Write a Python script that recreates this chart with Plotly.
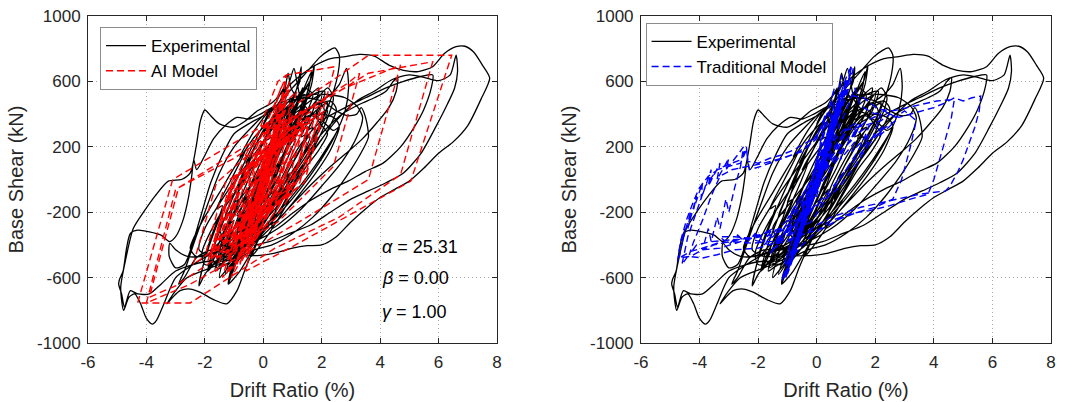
import plotly.graph_objects as go

# ---------------------------------------------------------------------------
# Hysteresis data: (drift ratio %, base shear kN) pairs, in time order
# ---------------------------------------------------------------------------
exp_early = [
    (0.00, 0), (0.20, 70), (0.45, 180), (0.55, 230), (0.40, 150), (0.05, 10), (-0.30, -120), (-0.50, -210),
    (-0.40, -170), (-0.05, -20), (0.35, 140), (0.70, 290), (0.80, 330), (0.60, 230), (0.15, 40), (-0.35, -160),
    (-0.75, -330), (-0.85, -380), (-0.60, -260), (-0.10, -50), (0.40, 170), (0.90, 390), (1.05, 450), (0.85, 350),
    (0.30, 100), (-0.30, -150), (-0.90, -420), (-1.05, -500), (-0.80, -380), (-0.20, -110), (0.50, 200), (1.10, 450),
    (1.35, 560), (1.20, 480), (0.60, 200), (-0.10, -120), (-0.80, -420), (-1.15, -580), (-1.20, -640), (-0.95, -520),
    (-0.40, -260), (0.30, 80), (0.90, 330), (1.40, 560), (1.65, 660), (1.55, 560), (1.10, 330), (0.40, 40),
    (-0.30, -250), (-0.90, -470), (-1.30, -560), (-1.50, -600), (-1.30, -450), (-0.80, -200), (-0.20, 60), (0.40, 280),
    (0.95, 480), (1.25, 600), (1.30, 690), (1.15, 560), (0.80, 380), (0.20, 120), (-0.50, -180), (-1.10, -400),
    (-1.70, -520), (-1.90, -560), (-1.70, -420), (-1.20, -180), (-0.60, 80), (0.00, 300), (0.50, 420), (0.75, 560),
    (0.85, 650), (0.95, 560), (1.20, 500), (1.60, 600), (1.75, 700), (1.65, 580), (1.30, 400), (0.70, 150),
    (0.00, -120), (-0.60, -330), (-1.20, -470), (-1.60, -500), (-2.00, -580), (-2.20, -650), (-2.05, -520), (-1.70, -330),
    (-1.20, -110), (-0.60, 120), (-0.10, 300), (0.30, 420), (0.60, 470),
]
exp_tangle = [
    (0.40, 150), (0.60, 300), (0.50, 200), (0.80, 330), (1.10, 420), (0.90, 300), (1.20, 380), (1.50, 500),
    (1.30, 380), (0.90, 220), (1.10, 250), (0.70, 80), (0.20, -100), (0.40, -60), (0.00, -200), (-0.40, -330),
    (-0.20, -250), (-0.60, -380), (-0.90, -480), (-0.70, -400), (-1.00, -500), (-1.30, -580), (-1.10, -470), (-0.70, -300),
    (-0.90, -330), (-0.40, -120), (0.00, 60), (-0.20, 0), (0.30, 200), (0.70, 360), (0.50, 260), (0.90, 420),
    (1.30, 540), (1.10, 420), (1.50, 500), (1.90, 560), (1.70, 420), (1.30, 260), (1.50, 280), (1.00, 100),
    (0.50, -80), (0.70, -40), (0.20, -220), (-0.30, -360), (-0.10, -300), (-0.60, -440), (-1.00, -520), (-0.80, -420),
    (-1.20, -480), (-1.60, -540), (-1.40, -420), (-1.00, -250), (-1.20, -280), (-0.70, -80), (-0.30, 100), (-0.50, 60),
    (0.00, 220), (0.40, 360), (0.20, 280), (0.60, 420), (1.00, 500), (0.80, 380), (1.20, 420), (1.60, 480),
    (2.00, 520), (1.80, 400), (1.40, 250), (1.60, 260), (1.10, 60), (0.60, -120), (0.80, -80), (0.20, -260),
    (-0.30, -380), (-0.50, -420), (-0.20, -250), (0.30, -40), (0.10, -80), (0.60, 120), (1.00, 260), (0.80, 180),
    (1.30, 320), (1.80, 420), (2.20, 470), (2.00, 360), (1.60, 220), (1.80, 240), (1.20, 20), (0.60, -180),
    (0.90, -120), (0.20, -330), (-0.40, -470), (-0.20, -380), (-0.80, -560), (-1.20, -640), (-1.00, -520), (-0.60, -320),
    (-0.80, -340), (-0.30, -100), (0.10, 80), (-0.10, 40), (0.40, 240), (0.80, 380), (0.60, 300), (1.00, 430),
    (1.40, 520), (1.20, 400), (0.80, 240), (1.00, 260), (0.50, 60), (0.00, -140), (0.20, -100), (-0.40, -300),
    (-0.90, -430), (-0.70, -360), (-1.20, -450), (-1.70, -500), (-1.50, -380), (-1.10, -200), (-1.30, -220), (-0.80, -20),
    (-0.40, 140), (-0.60, 100), (-0.10, 260), (0.30, 380), (0.10, 300), (0.50, 440), (0.80, 520), (0.60, 400),
    (0.30, 220), (0.50, 240), (0.00, 40), (-0.50, -160), (-0.30, -120), (-0.90, -320), (-1.40, -440), (-1.20, -340),
    (-1.70, -420), (-2.00, -480), (-1.80, -360), (-1.40, -160), (-1.60, -180), (-1.10, 0), (-0.60, 180), (-0.80, 140),
    (-0.30, 300), (0.20, 420), (0.00, 340), (0.40, 460), (0.70, 560), (0.50, 420), (0.10, 240), (0.30, 260),
    (-0.20, 60), (-0.70, -140), (-0.50, -100), (-1.00, -300), (-1.50, -420), (-1.30, -330), (-0.80, -120), (-1.00, -140),
    (-0.40, 80), (0.10, 260), (-0.10, 200), (0.40, 360), (0.90, 460), (0.70, 360), (1.20, 440), (1.70, 520),
    (2.10, 540), (1.90, 420), (1.50, 300), (1.70, 320), (1.20, 160), (0.70, 0), (0.90, 40), (0.30, -160),
    (-0.20, -300), (0.00, -240), (-0.50, -380), (-0.90, -450),
]
exp_wide = [
    (-1.50, -300), (-0.80, -120), (0.00, 60), (0.80, 260), (1.50, 420), (1.90, 470), (2.10, 420), (1.70, 250),
    (1.10, 80), (0.40, -120), (-0.40, -300), (-1.10, -440), (-1.70, -520), (-2.00, -520), (-2.10, -450), (-1.60, -250),
    (-0.90, -60), (-0.20, 120), (0.50, 280), (1.20, 400), (1.60, 440), (2.30, 480), (2.50, 430), (2.20, 300),
    (1.50, 120), (0.80, -60), (0.10, -220), (-0.60, -360), (-1.30, -460), (-1.80, -470), (-2.20, -430), (-2.00, -300),
    (-1.40, -120), (-0.70, 60), (0.00, 230), (0.60, 380), (1.10, 480), (1.40, 560), (1.70, 520), (1.40, 380),
    (0.90, 220), (0.30, 40), (-0.40, -140), (-1.00, -300), (-1.50, -420), (-1.90, -560), (-1.60, -420), (-1.00, -220),
    (-0.30, 0), (0.40, 200), (1.00, 330), (1.70, 400), (2.40, 380), (2.60, 330), (2.20, 200), (1.60, 40),
    (0.90, -120), (0.20, -260), (-0.50, -380), (-1.20, -480), (-1.50, -500), (-1.00, -300), (-0.30, -80), (0.40, 150),
    (1.10, 300), (1.80, 380), (2.20, 420), (1.80, 260), (1.20, 100), (0.50, -80), (-0.20, -240), (-0.90, -380),
    (-1.60, -440), (-2.30, -470), (-2.50, -420), (-2.10, -260), (-1.50, -80), (-0.90, 100), (-0.30, 260), (0.30, 370),
    (0.90, 450), (1.30, 520), (1.60, 600), (1.40, 470), (0.90, 300), (0.30, 120), (-0.30, -60), (-0.90, -220),
    (-0.40, -200), (0.10, 20), (0.60, 470),
]
exp_mid = [
    (1.00, 560), (1.50, 660), (1.95, 750), (2.25, 790), (2.45, 805), (2.60, 760), (2.55, 640), (2.25, 460),
    (1.80, 280), (1.20, 90), (0.50, -120), (-0.20, -280), (-0.90, -400), (-1.50, -440), (-2.10, -470), (-2.60, -470),
    (-3.00, -430), (-3.20, -390), (-3.22, -470), (-3.00, -540), (-2.70, -520), (-2.40, -380), (-2.10, -200), (-1.80, -20),
    (-1.40, 150), (-1.00, 280), (-0.50, 340), (0.00, 390), (0.40, 440), (0.70, 520), (0.90, 600), (1.05, 680),
    (1.15, 600), (1.30, 480), (1.55, 430), (1.90, 470), (2.30, 520), (2.60, 580), (2.85, 680), (2.92, 560),
    (2.80, 420), (2.40, 250), (1.90, 100), (1.30, -50), (0.60, -200), (-0.10, -330), (-0.70, -420), (-1.30, -430),
    (-1.80, -430), (-2.30, -480), (-2.70, -600), (-2.90, -640), (-2.70, -560), (-2.30, -350), (-1.90, -150), (-1.50, 40),
    (-1.00, 200), (-0.40, 320), (0.20, 420), (0.80, 470), (1.40, 500), (2.00, 480), (2.50, 420), (2.90, 390),
    (3.20, 400), (3.35, 440), (3.50, 380), (3.60, 260),
]
exp_dense = [
    (3.40, 180), (3.00, 60), (2.40, -90), (1.70, -230), (1.00, -330), (0.30, -400), (-0.30, -430), (-0.80, -480),
    (-1.10, -560), (-1.00, -500), (-0.60, -300), (-0.10, -80), (0.40, 150), (0.90, 330), (1.30, 420), (1.70, 400),
    (2.00, 330), (2.20, 280), (1.90, 180), (1.40, 60), (0.80, -120), (0.20, -280), (-0.40, -400), (-0.90, -480),
    (-1.40, -530), (-1.65, -560), (-1.40, -380), (-1.00, -150), (-0.60, 60), (-0.20, 230), (0.20, 330), (0.50, 380),
    (0.70, 460), (0.55, 300), (0.30, 150), (0.70, 230), (1.20, 330), (1.60, 390), (2.00, 360), (2.40, 300),
    (2.60, 320), (2.30, 180), (1.80, 40), (1.20, -100), (0.60, -230), (0.00, -340), (-0.50, -420), (-1.00, -470),
    (-1.20, -520),
]
exp_large = [
    (-1.80, -500), (-2.40, -520), (-3.00, -560), (-3.50, -640), (-3.90, -700), (-4.30, -700), (-4.55, -680), (-4.75, -780),
    (-4.85, -700), (-4.95, -640), (-4.92, -610), (-4.80, -560), (-4.68, -420), (-4.55, -330), (-4.30, -310), (-3.90, -320),
    (-3.50, -340), (-3.20, -380), (-3.00, -350), (-2.75, -250), (-2.55, -100), (-2.45, 20), (-2.38, 120), (-2.28, 60),
    (-2.05, 130), (-1.70, 250), (-1.30, 330), (-0.90, 380), (-0.50, 370), (-0.10, 400), (0.40, 450), (1.00, 500),
    (1.60, 520), (2.20, 520), (2.80, 500), (3.20, 450), (3.40, 380), (3.20, 260), (2.70, 110), (2.00, -40),
    (1.30, -180), (0.50, -300), (-0.30, -380), (-1.00, -420), (-1.70, -450), (-2.40, -520), (-3.00, -600), (-3.40, -760),
    (-3.65, -860), (-3.80, -885), (-4.00, -850), (-4.20, -760), (-4.40, -700), (-4.60, -720), (-4.78, -800), (-4.88, -660),
    (-4.70, -480), (-4.45, -300), (-4.10, -200), (-3.70, -100), (-3.25, -10), (-2.80, 0), (-2.50, 40), (-2.30, 200),
    (-2.15, 360), (-2.00, 425), (-1.80, 390), (-1.50, 340), (-1.00, 320), (-0.60, 360), (-0.20, 420), (0.30, 470),
    (0.80, 560), (1.30, 640), (1.80, 700), (2.30, 740), (2.80, 752), (3.30, 765), (3.80, 755), (4.30, 700),
    (4.80, 668), (5.30, 660), (5.80, 690), (6.20, 770), (6.60, 812), (6.90, 815), (7.20, 780), (7.50, 700),
    (7.75, 620), (7.45, 490), (7.00, 330), (6.50, 230), (6.00, 160), (5.50, 70), (5.00, -10), (4.50, -60),
    (4.00, -110), (3.50, -180), (3.00, -260), (2.50, -350), (2.00, -400), (1.50, -405), (1.00, -420), (0.40, -450),
    (-0.20, -465), (-0.90, -470), (-1.50, -520), (-2.10, -560), (-2.60, -600), (-3.00, -680), (-3.30, -760), (-3.10, -720),
    (-2.85, -680), (-2.50, -670), (-2.15, -690), (-1.70, -735), (-1.25, -760), (-0.90, -680), (-0.60, -540), (-0.20, -380),
    (0.40, -200), (1.00, 0), (1.80, 200), (2.50, 360), (3.20, 480), (3.80, 540), (4.40, 610), (5.00, 640),
    (5.50, 625), (6.00, 605), (6.40, 640), (6.60, 760), (6.65, 660), (6.55, 560), (6.30, 460), (5.90, 320),
    (5.40, 160), (4.80, 40), (4.20, -20), (3.60, -70), (3.00, -120), (2.30, -200), (1.60, -280), (0.90, -330),
    (0.20, -380), (-0.40, -400), (0.00, -250), (0.60, 0), (1.30, 220), (2.00, 360), (2.80, 440), (3.50, 500),
    (4.20, 560), (4.80, 600), (5.40, 630), (5.80, 640), (5.75, 560), (5.50, 430), (5.20, 330), (4.70, 200),
    (4.10, 100), (3.50, 50), (2.90, -10), (2.30, -60), (1.60, -130), (0.90, -220), (0.30, -300), (0.60, -100),
    (1.30, 100), (2.00, 280), (2.70, 400), (3.30, 460), (3.80, 500), (4.20, 540), (4.45, 600), (4.60, 625),
    (4.55, 540), (4.30, 440), (3.90, 350), (3.40, 250), (2.90, 170), (2.30, 80), (1.70, -20), (1.00, -150),
    (0.40, -260), (-0.20, -300),
]
exp_late = [
    (0.30, -50), (0.80, 180), (1.30, 350), (1.80, 480), (2.20, 560), (2.40, 500), (2.10, 330), (1.60, 150),
    (1.00, -30), (0.40, -180), (-0.20, -300), (-0.70, -380), (-0.90, -330), (-0.50, -120), (0.00, 80), (0.50, 260),
    (0.90, 380), (1.10, 420), (0.80, 260), (0.30, 60), (-0.20, -120), (-0.50, -200), (-0.20, -50), (0.20, 100),
    (0.40, 150),
]

ai_early = [
    (0.00, 0), (0.35, 220), (0.60, 360), (0.45, 240), (-0.10, -120), (-0.45, -320), (-0.30, -200), (0.25, 180),
    (0.75, 420), (0.95, 470), (0.70, 300), (0.05, -160), (-0.60, -420), (-0.85, -490), (-0.60, -320), (0.10, 130),
    (0.80, 480), (1.15, 540), (0.85, 360), (0.00, -180), (-0.90, -500), (-1.25, -580), (-1.00, -420), (-0.30, 40),
    (0.50, 450), (0.90, 560), (0.70, 420), (-0.10, -120), (-0.80, -470), (-1.40, -600), (-1.10, -420), (-0.40, 20),
    (0.30, 380), (0.60, 560), (0.40, 440), (-0.30, -30), (-1.00, -440), (-1.60, -560), (-1.30, -380), (-0.50, 120),
    (0.10, 420), (0.50, 600), (0.80, 640),
]
ai_jitter = [
    (0.00, 0), (0.20, 120), (0.05, 40), (0.30, 180), (0.10, 60), (-0.20, -80), (0.00, -20), (-0.40, -160),
    (-0.20, -100), (-0.60, -260), (-0.40, -180), (-0.90, -320), (-0.70, -260), (-1.10, -380), (-0.80, -300), (-0.40, -120),
    (-0.60, -160), (-0.10, 40), (-0.30, 0), (0.20, 140), (0.00, 80), (0.50, 220), (0.30, 150), (0.80, 260),
    (0.60, 200), (1.10, 300), (0.90, 220), (1.40, 320), (1.20, 240), (0.80, 80), (1.00, 120), (0.50, -40),
    (0.70, 0), (0.20, -150), (0.40, -100), (-0.10, -240), (0.10, -180), (-0.40, -330), (-0.20, -260), (-0.70, -400),
    (-0.50, -330), (-1.00, -460), (-0.80, -380), (-0.30, -200), (-0.50, -230), (0.00, -60), (-0.20, -100), (0.30, 80),
    (0.10, 30), (0.60, 200), (0.40, 140), (0.90, 280), (0.70, 200), (1.20, 330), (1.50, 380), (1.30, 280),
    (0.90, 120), (1.10, 160), (0.60, -20), (0.80, 20), (0.30, -130), (0.50, -80), (0.00, -220), (0.20, -160),
    (-0.30, -300), (-0.10, -230), (-0.60, -360), (-0.40, -300), (-0.90, -420), (-1.20, -480), (-1.00, -380), (-0.60, -200),
    (-0.80, -230), (-0.30, -40), (-0.50, -80), (0.00, 100), (-0.20, 40), (0.30, 200), (0.10, 130), (0.50, 300),
    (0.70, 360), (0.50, 240), (0.20, 100),
]
ai_jitter2 = [
    (-1.20, -500), (-0.90, -300), (-1.10, -360), (-0.70, -150), (-0.90, -200), (-0.40, 20), (-0.60, -20), (-0.10, 200),
    (-0.30, 140), (0.20, 330), (0.00, 260), (0.40, 420), (0.60, 480), (0.40, 360), (0.00, 160), (0.20, 200),
    (-0.30, -20), (-0.10, 20), (-0.60, -200), (-0.40, -150), (-0.90, -380), (-1.30, -470), (-1.10, -360), (-1.50, -420),
    (-1.80, -460), (-1.50, -300), (-1.10, -120), (-1.30, -150), (-0.80, 40), (-1.00, 0), (-0.50, 160), (-0.70, 120),
    (-0.20, 280), (0.20, 360), (0.00, 280), (0.40, 330), (0.80, 380), (0.60, 300), (1.00, 360), (1.40, 420),
    (1.10, 300), (0.70, 130), (0.90, 170), (0.40, -40), (0.60, 0), (0.10, -200), (0.30, -150), (-0.20, -320),
    (0.00, -260), (-0.50, -420), (-0.80, -520), (-0.60, -400), (-0.20, -180), (-0.40, -220), (0.10, 20), (-0.10, -20),
    (0.40, 180), (0.20, 120), (0.70, 280), (1.00, 360), (1.30, 420), (1.00, 260), (0.60, 80), (0.80, 120),
    (0.30, -100), (0.50, -60), (0.00, -250), (0.20, -200), (-0.30, -380), (-0.10, -320), (-0.60, -480), (-0.40, -380),
    (0.00, -160), (-0.20, -200), (0.30, 40),
]
ai_tangle = [
    (0.30, 100), (0.70, 350), (0.50, 200), (-0.20, -250), (-0.60, -450), (-0.40, -300), (0.20, 100), (0.60, 400),
    (0.40, 250), (-0.10, -100), (-0.40, -300), (-1.00, -400), (-1.60, -480), (-1.20, -200), (-0.60, 0), (0.00, 150),
    (0.80, 250), (1.50, 320), (1.20, 100), (0.60, -150), (0.00, -300), (-0.60, -380), (-0.20, -100), (0.40, 300),
    (0.80, 520), (0.50, 300), (-0.10, -50), (-0.60, -330), (-1.30, -420), (-1.90, -500), (-1.40, -200), (-0.90, 20),
    (0.00, 180), (0.90, 300), (1.80, 400), (1.30, 120), (0.70, -120), (0.00, -300), (-0.50, -420), (-0.10, -150),
    (0.50, 220), (1.00, 400), (0.70, 200), (0.20, -100), (-0.30, -300), (-0.80, -380), (-0.40, -120), (0.20, 200),
    (0.60, 450), (0.90, 600), (0.60, 380), (0.10, 40), (-0.50, -300), (-0.90, -520), (-0.60, -350), (0.00, 40),
    (0.40, 300), (0.20, 150), (-0.30, -150), (-0.70, -250), (-1.30, -330), (-0.80, -50), (-0.20, 150), (0.50, 260),
    (1.20, 330), (1.90, 380), (1.50, 150), (1.00, -80), (0.40, -240), (-0.30, -340), (0.10, -100), (0.60, 200),
    (0.30, 50), (-0.20, -200), (-1.00, -300), (-1.70, -380), (-1.30, -150), (-0.50, 60), (0.30, 200), (1.10, 280),
    (0.70, 60), (0.20, -120), (-0.40, -380), (-1.10, -600), (-0.70, -380), (0.10, 120), (0.60, 430), (0.80, 640),
]
ai_wide = [
    (-1.80, -480), (-1.05, 0), (1.20, 300), (0.60, -90), (-1.50, -370), (-0.90, 20), (1.60, 350), (1.00, -40),
    (-1.20, -330), (-0.60, 60), (1.90, 400), (1.20, -50), (-0.80, -310), (-2.00, -470), (-1.30, -20), (0.50, 220),
    (1.40, 340), (0.80, -50), (-0.90, -280), (-1.60, -370), (-1.00, 20), (0.80, 260), (2.10, 420), (1.40, -20),
    (0.20, -170), (-1.40, -380), (-0.80, 0), (0.60, 200), (1.50, 300), (0.90, -100), (-0.50, -280), (-1.20, -360),
    (-0.50, 60), (0.30, 170), (0.80, 640),
]
ai_cycles = [
    (2.45, 690), (1.50, 60), (0.00, -250), (-1.70, -430), (-2.40, -520), (-1.60, -20), (0.00, 230), (1.50, 430),
    (2.90, 590), (3.30, 650), (2.40, 80), (0.50, -260), (-1.50, -470), (-3.00, -650), (-3.90, -720), (-2.90, -50),
    (-1.00, 160), (1.00, 380), (2.80, 560), (4.70, 700), (3.60, 0), (1.50, -230), (-0.50, -440), (-2.50, -640),
    (-4.00, -755), (-3.00, -60), (-1.00, 130), (1.50, 420), (3.60, 650), (5.80, 720), (4.70, 30), (2.60, -230),
    (0.40, -420), (-2.50, -755), (-4.30, -755), (-3.10, 0), (0.00, 330), (2.40, 610), (3.60, 760), (6.45, 760),
    (5.05, -10), (3.00, -210), (1.00, -410), (-0.60, -560), (-0.10, -150), (0.60, 250), (1.40, 390), (2.00, 460),
    (1.40, 40), (0.20, -200), (-1.00, -380), (-1.80, -480), (-1.20, -60), (-0.20, 150), (0.80, 300), (1.60, 380),
    (1.20, 100), (0.20, -200), (-0.80, -350), (-0.30, -50), (0.40, 200), (1.00, 320), (0.60, 60), (-0.20, -180),
    (0.30, 100),
]

trad_center = [
    (0.00, 0), (0.25, 150), (0.45, 260), (0.30, 170), (-0.10, -80), (-0.35, -220), (-0.20, -130), (0.20, 120),
    (0.55, 330), (0.65, 380), (0.45, 260), (0.00, -30), (-0.45, -280), (-0.60, -360), (-0.40, -230), (0.10, 70),
    (0.60, 380), (0.80, 460), (0.60, 330), (0.05, 20), (-0.55, -330), (-0.85, -480), (-0.70, -380), (-0.10, -40),
    (0.50, 340), (0.95, 560), (1.05, 600), (0.80, 450), (0.20, 100), (-0.50, -320), (-1.00, -560), (-1.20, -620),
    (-0.95, -480), (-0.30, -150), (0.40, 260), (0.90, 540), (1.25, 680), (1.10, 560), (0.60, 300), (0.00, -40),
    (-0.70, -400), (-1.05, -600), (-0.85, -460), (-0.20, -100), (0.30, 200), (0.70, 470), (0.85, 640), (0.75, 500),
    (0.40, 260),
]
trad_jitter = [
    (0.00, 0), (0.15, 100), (0.05, 40), (0.25, 160), (0.10, 80), (-0.10, -60), (0.00, -10), (-0.25, -150),
    (-0.10, -80), (-0.40, -240), (-0.25, -160), (-0.60, -330), (-0.45, -260), (-0.75, -420), (-0.55, -320), (-0.20, -120),
    (-0.35, -160), (0.05, 40), (-0.10, -20), (0.30, 180), (0.15, 110), (0.50, 300), (0.35, 220), (0.70, 400),
    (0.55, 320), (0.90, 480), (0.75, 400), (0.45, 220), (0.60, 260), (0.20, 60), (0.35, 100), (-0.05, -80),
    (0.10, -30), (-0.30, -200), (-0.15, -140), (-0.50, -300), (-0.35, -240), (-0.70, -400), (-0.90, -500), (-0.70, -380),
    (-0.40, -200), (-0.55, -240), (-0.15, -40), (-0.30, -80), (0.10, 120), (-0.05, 60), (0.35, 240), (0.20, 170),
    (0.60, 360), (0.80, 460), (0.60, 320), (0.30, 160), (0.00, 0),
]
trad_tangle = [
    (0.00, 0), (0.30, 200), (0.15, 100), (0.50, 350), (0.35, 200), (-0.10, -50), (-0.40, -250), (-0.25, -150),
    (-0.60, -350), (-0.45, -250), (0.00, 0), (0.40, 250), (0.70, 420), (0.55, 300), (0.90, 500), (0.70, 360),
    (0.20, 100), (-0.30, -180), (-0.70, -420), (-0.55, -320), (-0.90, -520), (-0.70, -400), (-0.20, -120), (0.30, 180),
    (0.80, 480), (0.60, 360), (1.00, 580), (0.80, 440), (0.30, 150), (-0.20, -150), (-0.60, -380), (-0.45, -280),
    (-0.80, -480), (-1.10, -600), (-0.90, -460), (-0.40, -200), (0.10, 80), (0.60, 380), (0.45, 280), (0.90, 560),
    (1.15, 650), (0.90, 480), (0.40, 200), (-0.10, -100), (-0.50, -330), (-0.30, -200), (-0.70, -430), (-1.00, -580),
    (-0.80, -430), (-0.30, -150), (0.20, 150), (0.70, 440), (0.50, 320), (0.00, 30), (-0.40, -220), (-0.20, -100),
    (0.30, 200), (0.60, 380), (0.40, 250), (-0.10, -60), (-0.60, -350), (-0.40, -220), (0.10, 60), (0.50, 300),
    (0.80, 500), (0.60, 340), (0.10, 50), (-0.40, -250), (-0.80, -480), (-0.60, -340), (-0.10, -50), (0.40, 250),
    (0.20, 120), (-0.20, -100), (0.00, 0), (0.50, 100), (0.90, 180), (0.80, 120), (1.30, 230), (1.20, 170),
    (1.80, 280), (1.60, 200), (2.30, 330), (2.10, 260), (2.70, 360), (2.20, 300), (1.60, 180), (1.00, 60),
    (0.40, -100), (-0.20, -260), (-0.60, -300), (-1.00, -350), (-0.80, -280), (-1.40, -380), (-1.20, -300), (-1.80, -400),
    (-1.50, -330), (-1.00, -250), (-0.50, -100), (0.00, 60), (0.40, 200),
]
trad_wide = [
    (0.90, 300), (1.40, 350), (1.20, 260), (1.80, 330), (1.50, 200), (1.00, 60), (0.40, -80), (-0.30, -200),
    (-0.90, -300), (-1.40, -420), (-1.20, -320), (-0.70, -180), (-0.20, -40), (0.40, 120), (1.10, 260), (1.70, 360),
    (2.20, 400), (1.90, 250), (1.30, 80), (0.70, -60), (0.00, -160), (-0.60, -260), (-1.30, -360), (-1.60, -460),
    (-1.30, -380), (-0.80, -240), (-0.20, -60), (0.50, 120), (1.20, 240), (1.50, 340), (1.00, 200), (0.40, 40),
    (-0.30, -120), (-1.00, -240), (-0.60, -120), (0.10, 60), (0.60, 200), (1.10, 320), (0.60, 160), (0.00, 0),
]
trad_right = [
    (1.00, 300), (1.60, 330), (2.20, 360), (2.50, 400), (2.80, 380), (3.20, 400), (3.60, 420), (4.00, 440),
    (4.40, 470), (4.70, 500), (5.00, 480), (5.30, 500), (5.60, 510), (5.55, 420), (5.40, 320), (5.20, 220),
    (5.00, 120), (4.80, 40), (4.55, -40), (4.40, -70), (4.00, -80), (3.50, -90), (3.00, -110), (2.50, -130),
    (2.00, -150), (1.50, -170), (1.00, -200), (0.50, -230), (0.00, -280), (-0.40, -330),
]
trad_left = [
    (-1.00, -370), (-1.60, -380), (-2.20, -390), (-2.80, -380), (-3.40, -390), (-3.90, -420), (-4.30, -440), (-4.60, -470),
    (-4.75, -500), (-4.65, -380), (-4.45, -250), (-4.20, -130), (-4.00, -50), (-3.70, 20), (-3.30, 70), (-2.90, 100),
    (-2.60, 120), (-2.40, 200), (-2.35, 110), (-2.00, 100), (-1.60, 130), (-1.20, 150), (-0.80, 180), (-0.40, 220),
    (0.00, 260), (0.40, 420), (0.60, 560), (0.40, 380), (0.00, 100), (-0.40, -150), (-0.80, -350), (-1.10, -520),
    (-0.90, -400), (-0.40, -120), (0.20, 200), (0.60, 420), (1.00, 620), (1.20, 700), (1.00, 520),
]
trad_right2 = [
    (1.60, 500), (2.10, 430), (2.60, 420), (3.10, 440), (3.60, 460), (4.10, 480), (4.70, 490), (4.60, 380),
    (4.40, 250), (4.20, 120), (4.00, 0), (3.80, -90), (3.20, -120), (2.50, -160), (1.80, -190), (1.10, -210),
    (0.40, -260), (-0.20, -350), (-0.60, -420), (-0.80, -470), (-0.50, -300), (0.00, -50), (0.50, 220), (1.00, 420),
    (1.30, 560), (1.50, 450), (2.00, 400), (2.30, 420), (2.70, 380), (3.00, 420), (3.40, 360), (3.20, 200),
    (2.90, 0), (2.60, -120), (2.00, -170), (1.40, -200), (0.80, -240), (0.20, -300),
]
trad_left2 = [
    (-0.40, -330), (-1.00, -380), (-1.60, -400), (-2.30, -360), (-3.00, -370), (-3.60, -380), (-4.10, -400), (-4.35, -460),
    (-4.20, -380), (-3.90, -250), (-3.60, -100), (-3.30, 20), (-2.90, 60), (-2.40, 80), (-1.80, 100), (-1.20, 130),
    (-0.50, 170), (0.00, 250), (0.30, 400), (0.10, 200), (-0.30, -100), (-0.70, -300), (-1.30, -380), (-2.00, -420),
    (-2.80, -430), (-3.40, -460), (-3.90, -480), (-4.40, -470), (-4.60, -520), (-4.40, -350), (-4.10, -200), (-3.80, -40),
    (-3.40, 60), (-3.00, 80), (-2.60, 100), (-2.40, 180), (-2.30, 60), (-1.90, 80), (-1.30, 120), (-0.70, 160),
    (-0.20, 220), (0.30, 350),
]
trad_jagged = [
    (-0.40, -200), (-1.00, -300), (-1.60, -340), (-2.20, -360), (-2.80, -350), (-3.30, -350), (-3.00, -400), (-2.70, -340),
    (-2.40, -390), (-2.10, -330), (-1.80, -380), (-1.50, -300), (-1.90, -340), (-2.60, -380), (-3.30, -420), (-3.90, -430),
    (-4.30, -470), (-4.70, -480), (-4.50, -300), (-4.60, -380), (-4.30, -200), (-4.40, -300), (-4.10, -100), (-4.20, -180),
    (-3.90, -20), (-3.95, -120), (-3.60, 60), (-3.70, -40), (-3.30, 100), (-3.40, 0), (-3.00, 130), (-3.10, 60),
    (-2.70, 150), (-2.50, 200), (-2.60, 80), (-2.80, -50), (-3.00, -200), (-3.10, -120), (-3.30, -300), (-3.40, -230),
    (-3.60, -380), (-3.70, -300), (-3.90, -430), (-3.50, -400), (-3.00, -380), (-2.40, -360), (-1.80, -330), (-1.20, -300),
    (-0.60, -240), (0.00, -100), (0.30, 100),
]
trad_late = [
    (0.60, 480), (0.40, 300), (0.00, 0), (-0.40, -260), (-0.70, -420), (-0.50, -280), (0.00, 20), (0.40, 280),
    (0.70, 420), (0.50, 250), (0.10, 0), (-0.30, -230), (-0.50, -320), (-0.20, -120), (0.20, 120), (0.40, 220),
    (0.20, 80), (0.00, 0),
]

x_ticks = [-6, -4, -2, 0, 2, 4, 6, 8]
x_tick_labels = ["-6", "-4", "-2", "0", "2", "4", "6", "8"]
y_ticks = [-1000, -600, -200, 200, 600, 1000]
y_tick_labels = ["-1000", "-600", "-200", "200", "600", "1000"]
params = [("α", "25.31", -413), ("β", "0.00", -602), ("γ", "1.00", -810)]


def join(*segments):
    xs = [p[0] for seg in segments for p in seg]
    ys = [p[1] for seg in segments for p in seg]
    return xs, ys


exp_x, exp_y = join(exp_early, exp_tangle, exp_wide, exp_mid, exp_dense, exp_large, exp_late)
ai_x, ai_y = join(ai_early, ai_jitter, ai_jitter2, ai_tangle, ai_wide, ai_cycles)
trad_x, trad_y = join(trad_center, trad_jitter, trad_tangle, trad_wide, trad_right, trad_left,
                      trad_right2, trad_left2, trad_jagged, trad_late)

FONT = "Arial, Liberation Sans, sans-serif"
INK = "#262626"

fig = go.Figure()

for xa, ya, lg in (("x", "y", "legend"), ("x2", "y2", "legend2")):
    fig.add_trace(go.Scatter(
        x=exp_x, y=exp_y, mode="lines", name="Experimental",
        line=dict(color="black", width=1.3, shape="spline", smoothing=0.7),
        xaxis=xa, yaxis=ya, legend=lg,
    ))

fig.add_trace(go.Scatter(
    x=ai_x, y=ai_y, mode="lines", name="AI Model",
    line=dict(color="red", width=1.4, dash="7px,4px"),
    xaxis="x", yaxis="y", legend="legend",
))
fig.add_trace(go.Scatter(
    x=trad_x, y=trad_y, mode="lines", name="Traditional Model",
    line=dict(color="blue", width=1.4, dash="7px,4px"),
    xaxis="x2", yaxis="y2", legend="legend2",
))

axis_common = dict(
    showline=True, linecolor=INK, linewidth=1, mirror="ticks",
    ticks="inside", ticklen=5, tickcolor=INK, automargin=False,
    showgrid=True, gridcolor="#a8a8a8", griddash="1px,3px", gridwidth=1,
    zeroline=False, tickfont=dict(family=FONT, size=17, color=INK),
)
x_common = dict(axis_common, range=[-6, 8], tickvals=x_ticks, ticktext=x_tick_labels, ticklabelstandoff=4,
                title=dict(text="Drift Ratio (%)", font=dict(family=FONT, size=20, color=INK), standoff=11))
y_common = dict(axis_common, range=[-1000, 1000], tickvals=y_ticks, ticktext=y_tick_labels, ticklabelstandoff=3,
                title=dict(text="Base Shear (kN)", font=dict(family=FONT, size=20, color=INK), standoff=8))

legend_common = dict(
    xanchor="left", yanchor="top", bgcolor="white", bordercolor="#8c8c8c", borderwidth=1,
    font=dict(family=FONT, size=17, color="black"), tracegroupgap=0, itemwidth=40,
)

fig.update_layout(
    width=1068, height=402,
    margin=dict(l=88, r=17, t=16, b=59, autoexpand=False),
    paper_bgcolor="white", plot_bgcolor="white",
    xaxis=dict(x_common, domain=[0.0, 0.4247], anchor="y"),
    yaxis=dict(y_common, domain=[0, 1], anchor="x"),
    xaxis2=dict(x_common, domain=[0.5742, 1.0], anchor="y2"),
    yaxis2=dict(y_common, domain=[0, 1], anchor="x2"),
    legend=dict(legend_common, x=0.0125, y=0.966),
    legend2=dict(legend_common, x=0.579, y=0.979),
)

for sym, val, yv in params:
    fig.add_annotation(
        x=4.0, y=yv, xref="x", yref="y", xanchor="left", yanchor="middle",
        text=f"<i>{sym}</i> = {val}", showarrow=False,
        font=dict(family=FONT, size=18, color="black"),
    )

fig.write_html("out.html")
